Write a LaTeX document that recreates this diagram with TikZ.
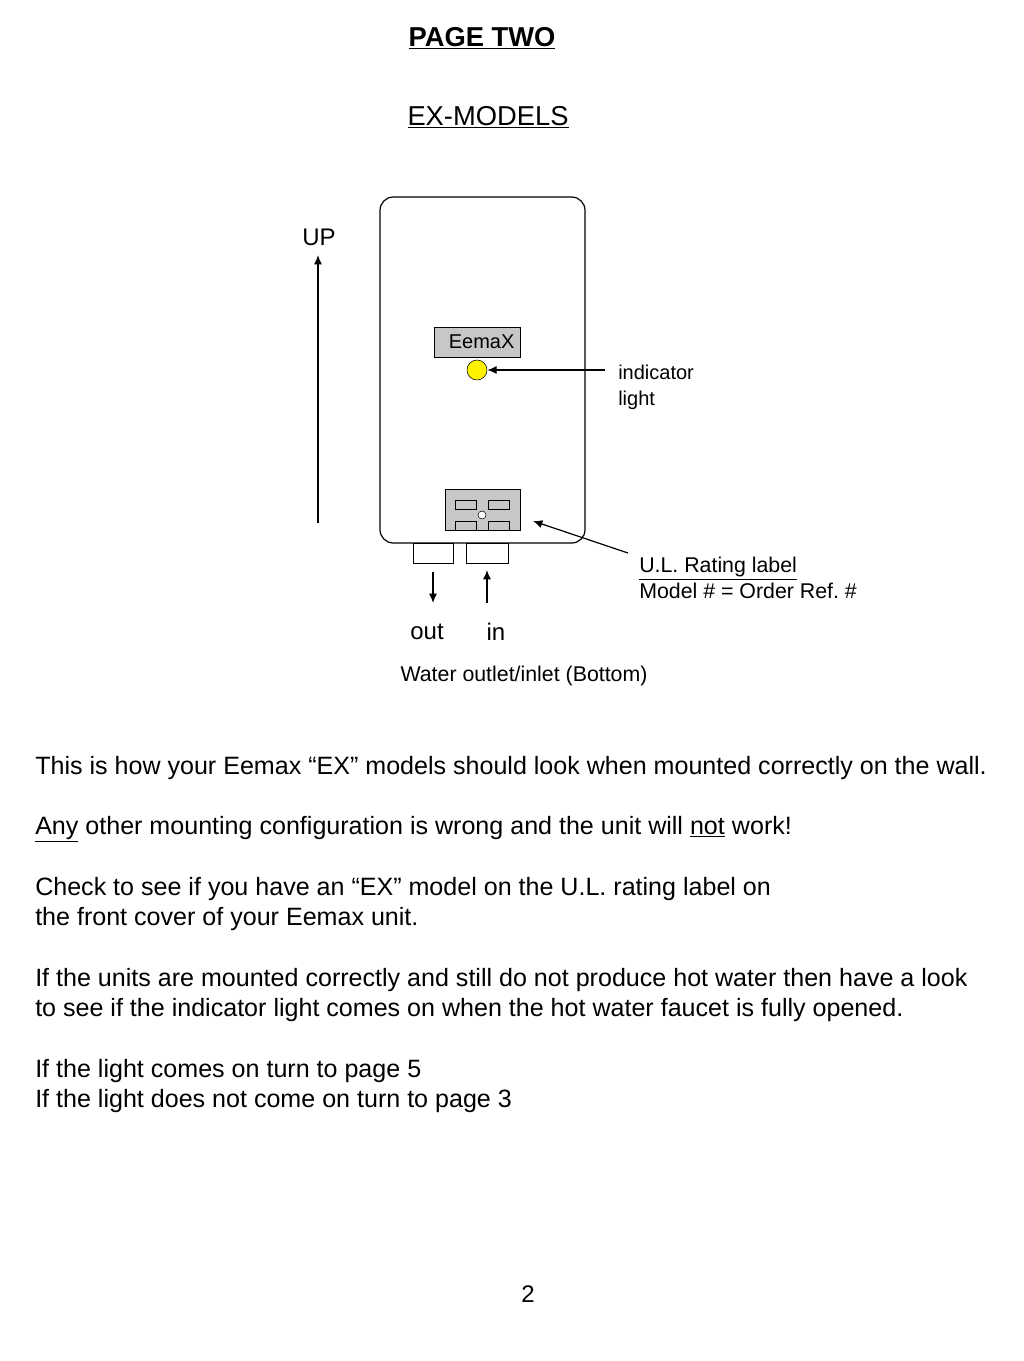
\documentclass[tikz,border=0pt]{standalone}
\usepackage{fontspec}
\setmainfont{Liberation Sans}
\usetikzlibrary{arrows.meta}
\tikzset{
	lbl/.style={font=\fontsize{16}{19}\selectfont, inner sep=0pt},
	big/.style={font=\fontsize{18}{22}\selectfont, inner sep=0pt},
	body/.style={font=\fontsize{18.8}{22.5}\selectfont, inner sep=0pt, align=left, anchor=west},
	arr/.style={-{Latex[length=7pt,width=6pt]}, line width=0.9pt}
}
\begin{document}
\begin{tikzpicture}[x=0.75pt,y=-0.75pt]
	\useasboundingbox (0,0) rectangle (1024,1361);
	\node (title) [font=\bfseries\fontsize{20.5}{24}\selectfont, inner sep=0pt] at (482,38) {\underline{PAGE TWO}};
	\node (sub) [font=\fontsize{20.5}{24}\selectfont, inner sep=0pt] at (488,117) {\underline{EX-MODELS}};
	
	% heater body
	\draw [line width=0.9pt, rounded corners=10pt] (380,197) rectangle (585,543);
	\node (brand) [draw, fill=black!22, minimum width=86*0.75pt, minimum height=30*0.75pt, inner sep=0pt, font=\fontsize{15}{18}\selectfont] at (477,342) {\hspace{7pt}EemaX};
	\node (led) [circle, draw, fill=yellow, minimum size=20*0.75pt, inner sep=0pt] at (477,370) {};
	\node (rating) [draw, fill=black!22, minimum width=75*0.75pt, minimum height=41*0.75pt, inner sep=0pt] at (482.5,509.5) {};
	\foreach \x in {455,488}{
		\draw [fill=black!22] (\x,500) rectangle (\x+21,509);
		\draw [fill=black!22] (\x,521) rectangle (\x+21,530);
	}
	\draw [fill=white] (482,515) circle (4);
	\node (outp) [draw, minimum width=40*0.75pt, minimum height=20*0.75pt, inner sep=0pt] at (433,553) {};
	\node (inp) [draw, minimum width=42*0.75pt, minimum height=20*0.75pt, inner sep=0pt] at (487,553) {};
	
	% labels and arrows
	\node (up) [big] at (319,237) {UP};
	\coordinate (upa) at (318,523);
	\coordinate (upb) at (318,255);
	\draw [arr] (upa) -- (upb);
	\node (ind) [lbl, align=left, anchor=north west, font=\fontsize{15}{19.5}\selectfont] at (618,365) {indicator\\light};
	\coordinate (inda) at (605,370);
	\draw [arr] (inda) -- (led);
	\node (ul) [lbl, align=left, anchor=north west, font=\fontsize{16}{19.5}\selectfont] at (639,557) {\underline{U.L. Rating label}\\Model \# = Order Ref.\ \#};
	\coordinate (ula) at (628,553);
	\coordinate (ulb) at (533,521);
	\draw [arr] (ula) -- (ulb);
	\coordinate (outb) at (433,603);
	\coordinate (ina) at (487,603);
	\draw [arr] (outp.south) ++(0,9) -- (outb);
	\draw [arr] (ina) -- ++(0,-33);
	\node (out) [big] at (427,632) {out};
	\node (in) [big] at (496,632) {in};
	\node (water) [lbl] at (524,676) {Water outlet/inlet (Bottom)};
	
	% text
	\node (t1) [body] at (35,768) {This is how your Eemax “EX” models should look when mounted correctly on the wall.};
	\node (t2) [body] at (35,829) {\underline{Any} other mounting configuration is wrong and the unit will \underline{not} work!};
	\node (t3) [body] at (35,904) {Check to see if you have an “EX” model on the U.L. rating label on\\the front cover of your Eemax unit.};
	\node (t4) [body] at (35,995) {If the units are mounted correctly and still do not produce hot water then have a look\\to see if the indicator light comes on when the hot water faucet is fully opened.};
	\node (t5) [body] at (35,1086) {If the light comes on turn to page 5\\If the light does not come on turn to page 3};
	\node (pg) [big] at (528,1294) {2};
\end{tikzpicture}
\end{document}
